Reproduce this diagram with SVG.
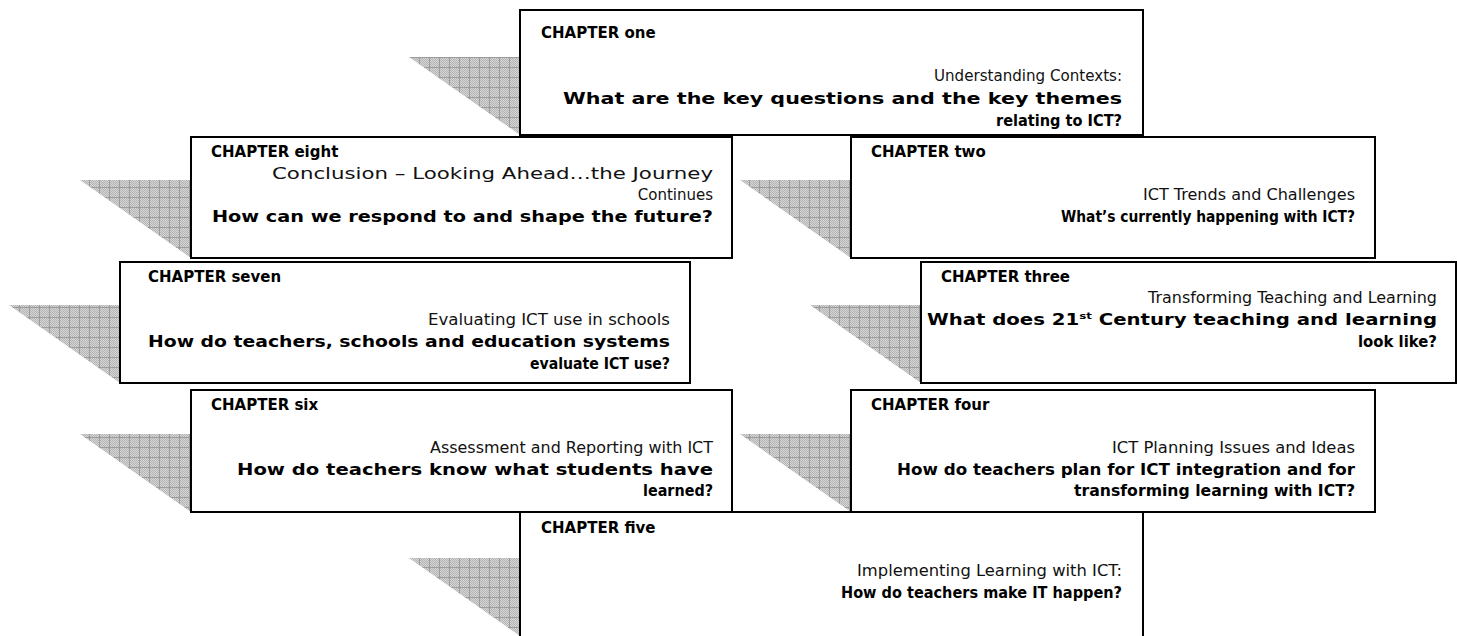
<svg xmlns="http://www.w3.org/2000/svg" width="1457" height="636" viewBox="0 0 1457 636">
<style>
.box{fill:#fff;stroke:#000;stroke-width:2}
.sh{fill:url(#grid)}
text{font-family:"DejaVu Sans","Liberation Sans",sans-serif;font-size:15px;fill:#000}
.h{font-weight:bold}
.s{text-anchor:end;fill:#111}
.q{text-anchor:end;font-weight:bold}
</style>
<defs>
<pattern id="dots" width="2" height="2" patternUnits="userSpaceOnUse">
<rect width="2" height="2" fill="#d6d6d6"/>
<rect width="1" height="1" fill="#b4b4b4"/>
<rect x="1" y="1" width="1" height="1" fill="#b4b4b4"/>
</pattern>
<pattern id="grid" x="9" y="7" width="10" height="10" patternUnits="userSpaceOnUse">
<rect width="10" height="10" fill="url(#dots)"/>
<path d="M0.5 0V10M0 0.5H10" stroke="#9c9c9c" stroke-width="1"/>
</pattern>
</defs>
<rect width="1457" height="636" fill="#fff"/>
<g id="connectors"></g>
<g id="ch1">
<polygon class="sh" points="409,57 520,57 520,135"/>
<rect class="box" x="520" y="10" width="623" height="125"/>
<text class="h" x="541" y="38">CHAPTER one</text>
<text class="s" x="1122" y="81" textLength="188" lengthAdjust="spacingAndGlyphs">Understanding Contexts:</text>
<text class="q" x="1122" y="104" textLength="559" lengthAdjust="spacingAndGlyphs">What are the key questions and the key themes</text>
<text class="q" x="1122" y="126" textLength="126" lengthAdjust="spacingAndGlyphs">relating to ICT?</text>
</g>
<g id="ch8">
<polygon class="sh" points="80,180 191,180 191,258"/>
<rect class="box" x="191" y="137" width="541" height="121"/>
<text class="h" x="211" y="157">CHAPTER eight</text>
<text class="s" x="713" y="179" textLength="441" lengthAdjust="spacingAndGlyphs">Conclusion – Looking Ahead…the Journey</text>
<text class="s" x="713" y="200">Continues</text>
<text class="q" x="713" y="222" textLength="501" lengthAdjust="spacingAndGlyphs">How can we respond to and shape the future?</text>
</g>
<g id="ch2">
<polygon class="sh" points="740,180 851,180 851,258"/>
<rect class="box" x="851" y="137" width="524" height="121"/>
<text class="h" x="871" y="157">CHAPTER two</text>
<text class="s" x="1355" y="200" textLength="212" lengthAdjust="spacingAndGlyphs">ICT Trends and Challenges</text>
<text class="q" x="1355" y="222" textLength="294" lengthAdjust="spacingAndGlyphs">What’s currently happening with ICT?</text>
</g>
<g id="ch7">
<polygon class="sh" points="9,305 120,305 120,383"/>
<rect class="box" x="120" y="262" width="570" height="121"/>
<text class="h" x="148" y="282">CHAPTER seven</text>
<text class="s" x="670" y="325" textLength="242" lengthAdjust="spacingAndGlyphs">Evaluating ICT use in schools</text>
<text class="q" x="670" y="347" textLength="522" lengthAdjust="spacingAndGlyphs">How do teachers, schools and education systems</text>
<text class="q" x="670" y="369" textLength="140" lengthAdjust="spacingAndGlyphs">evaluate ICT use?</text>
</g>
<g id="ch3">
<polygon class="sh" points="810,305 921,305 921,383"/>
<rect class="box" x="921" y="262" width="535" height="121"/>
<text class="h" x="941" y="282">CHAPTER three</text>
<text class="s" x="1437" y="303" textLength="289" lengthAdjust="spacingAndGlyphs">Transforming Teaching and Learning</text>
<text class="q" x="1437" y="325" textLength="510" lengthAdjust="spacingAndGlyphs">What does 21<tspan font-size="9" dy="-6">st</tspan><tspan dy="6"> Century teaching and learning</tspan></text>
<text class="q" x="1437" y="347" textLength="79" lengthAdjust="spacingAndGlyphs">look like?</text>
</g>
<g id="ch6">
<polygon class="sh" points="80,434 191,434 191,512"/>
<rect class="box" x="191" y="390" width="541" height="122"/>
<text class="h" x="211" y="410">CHAPTER six</text>
<text class="s" x="713" y="453" textLength="283" lengthAdjust="spacingAndGlyphs">Assessment and Reporting with ICT</text>
<text class="q" x="713" y="475" textLength="476" lengthAdjust="spacingAndGlyphs">How do teachers know what students have</text>
<text class="q" x="713" y="496" textLength="70" lengthAdjust="spacingAndGlyphs">learned?</text>
</g>
<g id="ch4">
<polygon class="sh" points="740,434 851,434 851,512"/>
<rect class="box" x="851" y="390" width="524" height="122"/>
<text class="h" x="871" y="410">CHAPTER four</text>
<text class="s" x="1355" y="453" textLength="243" lengthAdjust="spacingAndGlyphs">ICT Planning Issues and Ideas</text>
<text class="q" x="1355" y="475" textLength="458" lengthAdjust="spacingAndGlyphs">How do teachers plan for ICT integration and for</text>
<text class="q" x="1355" y="496" textLength="281" lengthAdjust="spacingAndGlyphs">transforming learning with ICT?</text>
</g>
<g id="ch5">
<polygon class="sh" points="409,558 520,558 520,636"/>
<rect class="box" x="520" y="512" width="623" height="130"/>
<text class="h" x="541" y="533">CHAPTER five</text>
<text class="s" x="1122" y="576" textLength="265" lengthAdjust="spacingAndGlyphs">Implementing Learning with ICT:</text>
<text class="q" x="1122" y="598" textLength="281" lengthAdjust="spacingAndGlyphs">How do teachers make IT happen?</text>
</g>
</svg>
